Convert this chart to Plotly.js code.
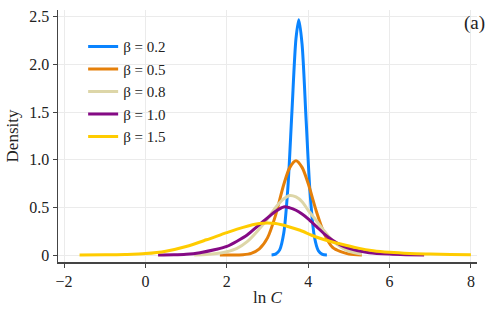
<!DOCTYPE html>
<html>
<head>
<meta charset="utf-8">
<script src="https://cdn.plot.ly/plotly-3.0.1.min.js"></script>
<style>html,body{margin:0;padding:0;background:#fff}#chart{width:488px;height:311px}</style>
</head>
<body>
<div id="chart"></div>
<script>
const seriesNames = ["β = 0.2", "β = 0.5", "β = 0.8", "β = 1.0", "β = 1.5"];
const seriesColors = ["#0a84ff", "#e5800a", "#ddd6a8", "#850a85", "#ffcc00"];

const x02 = [3.10, 3.2, 3.3, 3.4, 3.5, 3.6, 3.7, 3.77, 3.85, 3.95, 4.05, 4.15, 4.25, 4.35, 4.46];
const y02 = [0.0, 0.009, 0.054, 0.23, 0.70, 1.50, 2.27, 2.47, 2.21, 1.41, 0.63, 0.20, 0.046, 0.007, 0.0];

const x05 = [1.83, 2.1, 2.4, 2.6, 2.8, 3.0, 3.2, 3.4, 3.55, 3.7, 3.85, 4.0, 4.2, 4.4, 4.6, 4.8, 5.0, 5.32];
const y05 = [0.0, 0.0, 0.004, 0.018, 0.065, 0.18, 0.42, 0.74, 0.92, 0.99, 0.92, 0.75, 0.46, 0.22, 0.08, 0.035, 0.012, 0.0];

const x08 = [1.2, 1.5, 1.75, 2.0, 2.25, 2.5, 2.75, 3.0, 3.2, 3.4, 3.55, 3.7, 3.85, 4.0, 4.2, 4.4, 4.6, 4.8, 5.0, 5.32];
const y08 = [0.0, 0.005, 0.015, 0.035, 0.07, 0.14, 0.25, 0.38, 0.5, 0.59, 0.625, 0.61, 0.56, 0.47, 0.36, 0.25, 0.15, 0.085, 0.04, 0.01];

const x10 = [0.31, 0.7, 1.0, 1.34, 1.75, 2.0, 2.25, 2.5, 2.75, 3.0, 3.2, 3.4, 3.55, 3.7, 3.85, 4.0, 4.2, 4.4, 4.6, 4.8, 5.0, 5.2, 5.5, 6.0, 6.4, 6.85];
const y10 = [0.0, 0.002, 0.008, 0.025, 0.06, 0.09, 0.145, 0.21, 0.3, 0.39, 0.46, 0.505, 0.495, 0.47, 0.43, 0.38, 0.3, 0.22, 0.155, 0.105, 0.07, 0.048, 0.025, 0.01, 0.004, 0.0];

const x15 = [-1.62, -1.0, -0.5, 0.0, 0.5, 1.0, 1.5, 2.0, 2.4, 2.8, 3.0, 3.2, 3.5, 3.8, 4.1, 4.4, 4.8, 5.2, 5.6, 6.0, 6.5, 7.0, 7.5, 8.0];
const y15 = [0.0, 0.002, 0.006, 0.015, 0.04, 0.09, 0.16, 0.235, 0.29, 0.33, 0.335, 0.33, 0.3, 0.26, 0.205, 0.16, 0.115, 0.075, 0.045, 0.028, 0.016, 0.01, 0.005, 0.002];

const yTickVals = [0, 0.5, 1.0, 1.5, 2.0, 2.5];
const yTickText = ["0", "0.5", "1.0", "1.5", "2.0", "2.5"];
const xTickVals = [-2, 0, 2, 4, 6, 8];

const xs = [x02, x05, x08, x10, x15];
const ys = [y02, y05, y08, y10, y15];

const traces = xs.map((xv, i) => ({
  x: xv, y: ys[i], type: "scatter", mode: "lines", name: seriesNames[i],
  line: {color: seriesColors[i], width: 3, shape: "spline", smoothing: 0.8}
}));

const fam = "Liberation Serif, Times New Roman, serif";
const font = {family: fam, size: 16, color: "#222"};

const layout = {
  width: 488, height: 311,
  margin: {l: 58, r: 11, t: 10, b: 49},
  paper_bgcolor: "#fff", plot_bgcolor: "#fff",
  font: font,
  showlegend: true,
  legend: {x: 0.06, y: 0.92, xanchor: "left", yanchor: "top", bgcolor: "rgba(255,255,255,0)",
           font: {family: fam, size: 15, color: "#222"}, tracegroupgap: 0, itemwidth: 30},
  xaxis: {
    range: [-2.15, 8.15], tickvals: xTickVals, showgrid: true, gridcolor: "#ebebeb", gridwidth: 1,
    zeroline: false, showline: true, linecolor: "#444", linewidth: 1.5,
    ticks: "outside", ticklen: 4, tickcolor: "#444", tickfont: {family: fam, size: 16, color: "#222"},
    title: {text: "ln <i>C</i>", font: {family: fam, size: 17, color: "#222"}, standoff: 2}
  },
  yaxis: {
    range: [-0.073, 2.571], tickvals: yTickVals, ticktext: yTickText, showgrid: true, gridcolor: "#ebebeb", gridwidth: 1,
    zeroline: false, showline: true, linecolor: "#444", linewidth: 1.5,
    ticks: "outside", ticklen: 4, tickcolor: "#444", tickfont: {family: fam, size: 16, color: "#222"},
    title: {text: "Density", font: {family: fam, size: 17, color: "#222"}, standoff: 6}
  },
  annotations: [{text: "(a)", xref: "paper", yref: "paper", x: 1.025, y: 1.0, xanchor: "right", yanchor: "top",
                 showarrow: false, font: {family: fam, size: 19, color: "#222"}}]
};

Plotly.newPlot("chart", traces, layout, {staticPlot: true, displayModeBar: false});
</script>
</body>
</html>
